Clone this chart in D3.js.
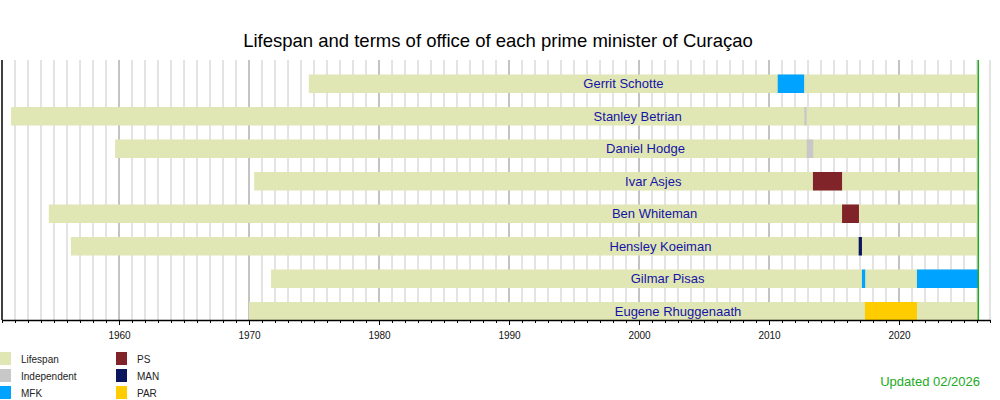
<!DOCTYPE html>
<html>
<head>
<meta charset="utf-8">
<script src="https://cdn.jsdelivr.net/npm/d3@7"></script>
<style>
  body { margin: 0; background: #fff; }
  svg { font-family: "Liberation Sans", Arial, sans-serif; }
</style>
</head>
<body>
<div id="chart"></div>
<script>
// prime ministers, top to bottom
const names = ["Gerrit Schotte", "Stanley Betrian", "Daniel Hodge", "Ivar Asjes",
               "Ben Whiteman", "Hensley Koeiman", "Gilmar Pisas", "Eugene Rhuggenaath"];
const birthYears = [1974.6, 1951.7, 1959.7, 1970.4, 1954.6, 1956.3, 1971.7, 1970.0];
const labelYears = [1998.8, 1999.9, 2000.5, 2001.1, 2001.2, 2001.65, 2002.2, 2003.0];

// terms of office
const termPerson = ["Gerrit Schotte", "Stanley Betrian", "Daniel Hodge", "Ivar Asjes", "Ben Whiteman",
                    "Hensley Koeiman", "Gilmar Pisas", "Eugene Rhuggenaath", "Gilmar Pisas"];
const termStart = [2010.67, 2012.72, 2012.9, 2013.38, 2015.62, 2016.9, 2017.15, 2017.38, 2021.38];
const termEnd   = [2012.7, 2012.9, 2013.4, 2015.62, 2016.92, 2017.15, 2017.4, 2021.38, 2026.1];
const termParty = ["MFK", "Independent", "Independent", "PS", "PS", "MAN", "MFK", "PAR", "MFK"];

// legend entries
const legendNames = ["Lifespan", "Independent", "MFK", "PS", "MAN", "PAR"];
const legendColors = ["#e0e6b4", "#c8c8c8", "#00a3ff", "#80242a", "#0b165e", "#ffcc00"];

const nowYear = 2026.1;
const yearRange = [1951, 2027];
const decadeTicks = [1960, 1970, 1980, 1990, 2000, 2010, 2020];

const svg = d3.select("#chart").append("svg")
    .attr("width", 1000)
    .attr("height", 400);

const x = d3.scaleLinear().domain(yearRange).range([2, 990]);
const y = d3.scaleBand().domain(names).range([60, 320]);
const color = d3.scaleOrdinal().domain(legendNames).range(legendColors);

const barOffset = 14.5, barH = 18.5;

// title
svg.append("text")
    .attr("x", 498).attr("y", 47)
    .attr("text-anchor", "middle")
    .attr("font-size", 18.5)
    .attr("fill", "#000")
    .text("Lifespan and terms of office of each prime minister of Curaçao");

// yearly grid lines
const years = d3.range(yearRange[0], yearRange[1] + 1);
svg.append("g").selectAll("line")
    .data(years)
    .join("line")
    .attr("x1", d => x(d)).attr("x2", d => x(d))
    .attr("y1", 60).attr("y2", 320)
    .attr("stroke", d => d === yearRange[0] ? "#000" : (d % 10 === 0 ? "#888" : "#c8c8c8"))
    .attr("stroke-width", d => d === yearRange[0] ? 1.5 : 1);

// lifespan bars
svg.append("g").selectAll("rect")
    .data(names)
    .join("rect")
    .attr("x", (d, i) => x(birthYears[i]))
    .attr("y", d => y(d) + barOffset)
    .attr("width", (d, i) => x(nowYear) - x(birthYears[i]))
    .attr("height", barH)
    .attr("fill", color("Lifespan"));

// terms
svg.append("g").selectAll("rect")
    .data(termPerson)
    .join("rect")
    .attr("x", (d, i) => x(termStart[i]))
    .attr("y", d => y(d) + barOffset)
    .attr("width", (d, i) => x(termEnd[i]) - x(termStart[i]))
    .attr("height", barH)
    .attr("fill", (d, i) => color(termParty[i]));

// names
svg.append("g").selectAll("text")
    .data(names)
    .join("text")
    .attr("x", (d, i) => x(labelYears[i]))
    .attr("y", d => y(d) + barOffset + barH / 2 + 4.5)
    .attr("text-anchor", "middle")
    .attr("font-size", 13)
    .attr("fill", "#1414a6")
    .text(d => d);

// "now" line
svg.append("line")
    .attr("x1", x(nowYear)).attr("x2", x(nowYear))
    .attr("y1", 60).attr("y2", 320)
    .attr("stroke", "#22aa22")
    .attr("stroke-width", 1.5);

// axes: minor yearly ticks and labelled decades
svg.append("g")
    .attr("transform", "translate(0,320)")
    .call(d3.axisBottom(x).tickValues(years).tickSize(3).tickSizeOuter(0).tickFormat(""))
    .call(g => g.selectAll("line").attr("stroke", "#000"))
    .call(g => g.select(".domain").attr("stroke", "#000").attr("stroke-width", 1.5));

svg.append("g")
    .attr("transform", "translate(0,320)")
    .call(d3.axisBottom(x).tickValues(decadeTicks).tickSize(5).tickSizeOuter(0).tickFormat(d3.format("d")))
    .call(g => g.select(".domain").remove())
    .call(g => g.selectAll("text")
        .attr("font-family", "Liberation Sans, Arial, sans-serif")
        .attr("font-size", 10)
        .attr("fill", "#111")
        .attr("dy", "1.05em"));

// legend
const legend = svg.append("g").selectAll("g")
    .data(legendNames)
    .join("g")
    .attr("transform", (d, i) => "translate(" + (i < 3 ? 0 : 116) + "," + (352 + (i % 3) * 17) + ")");

legend.append("rect")
    .attr("width", 11).attr("height", 13)
    .attr("fill", d => color(d));

legend.append("text")
    .attr("x", 21).attr("y", 11)
    .attr("font-size", 10)
    .attr("fill", "#222")
    .text(d => d);

// updated note
svg.append("text")
    .attr("x", 980).attr("y", 386)
    .attr("text-anchor", "end")
    .attr("font-size", 13)
    .attr("fill", "#22aa22")
    .text("Updated 02/2026");
</script>
</body>
</html>
